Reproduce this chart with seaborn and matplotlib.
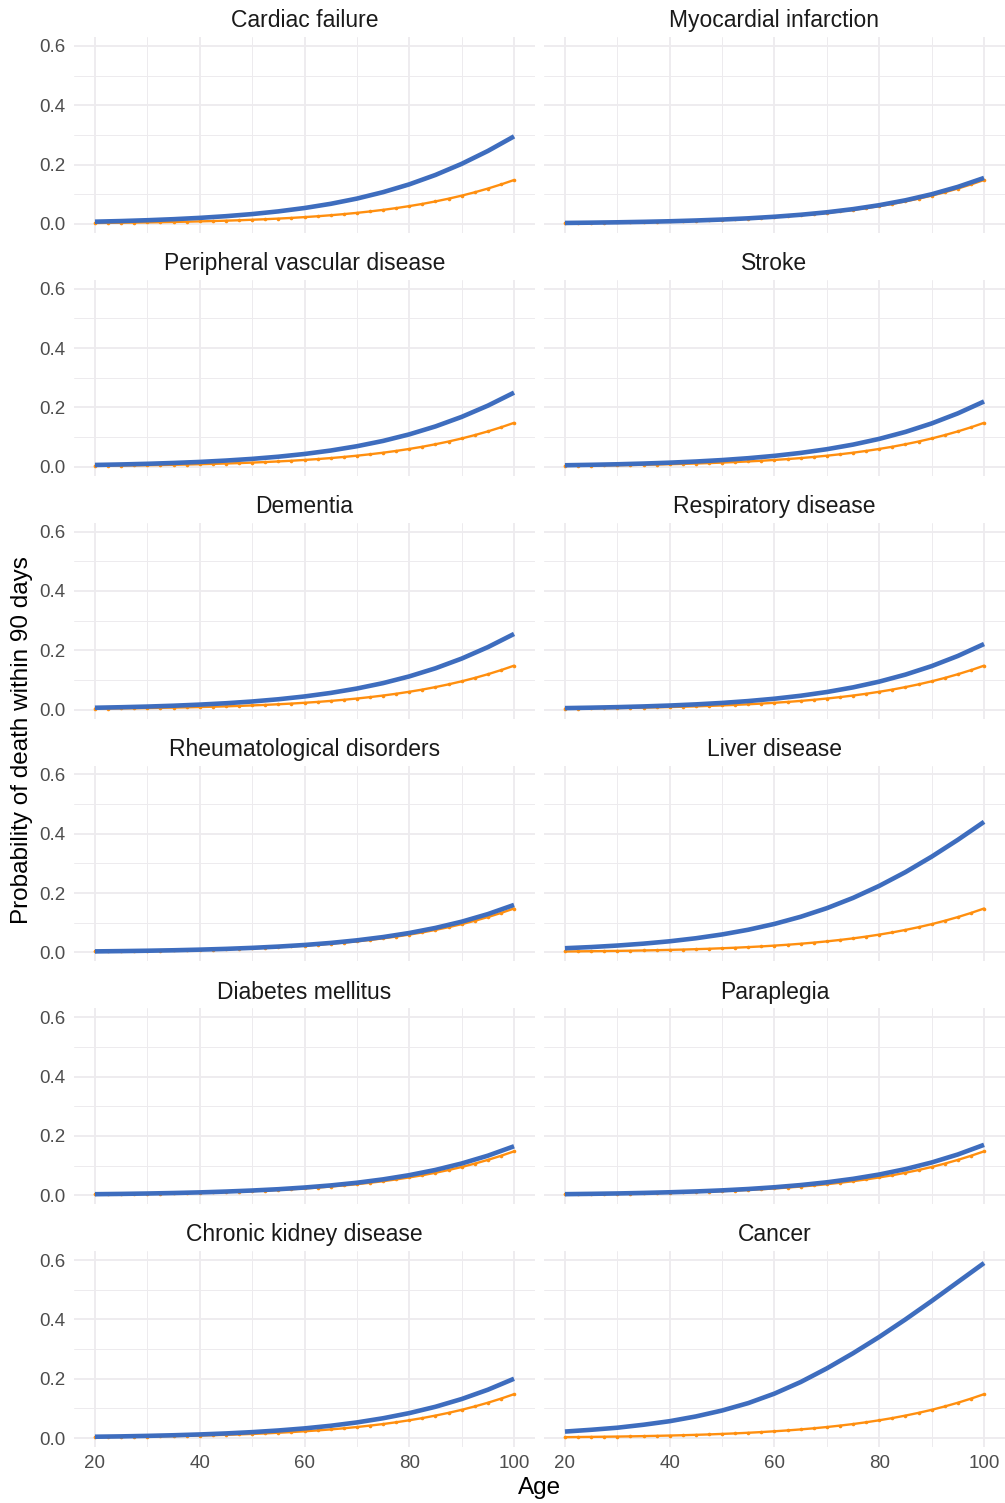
import numpy as np
import pandas as pd
import matplotlib
matplotlib.use("Agg")
import matplotlib.pyplot as plt
import seaborn as sns

# ---------------- data ----------------
diseases = [
    "Cardiac failure", "Myocardial infarction",
    "Peripheral vascular disease", "Stroke",
    "Dementia", "Respiratory disease",
    "Rheumatological disorders", "Liver disease",
    "Diabetes mellitus", "Paraplegia",
    "Chronic kidney disease", "Cancer",
]

ages_blue = [20, 25, 30, 35, 40, 45, 50, 55, 60, 65, 70, 75, 80, 85, 90, 95, 100]

cardiac_failure = [0.0076, 0.0097, 0.0125, 0.0160, 0.0204, 0.0261, 0.0332, 0.0423, 0.0536,
                   0.0678, 0.0854, 0.1071, 0.1334, 0.1651, 0.2025, 0.2459, 0.2951]
myocardial_infarction = [0.0033, 0.0043, 0.0055, 0.0071, 0.0090, 0.0116, 0.0148, 0.0189, 0.0242,
                         0.0309, 0.0393, 0.0499, 0.0632, 0.0797, 0.1000, 0.1249, 0.1550]
peripheral_vascular = [0.0061, 0.0078, 0.0100, 0.0128, 0.0163, 0.0209, 0.0266, 0.0339, 0.0431,
                       0.0547, 0.0692, 0.0871, 0.1092, 0.1360, 0.1681, 0.2060, 0.2499]
stroke = [0.0051, 0.0066, 0.0084, 0.0108, 0.0138, 0.0177, 0.0226, 0.0289, 0.0368,
          0.0467, 0.0592, 0.0747, 0.0940, 0.1175, 0.1460, 0.1800, 0.2200]
dementia = [0.0062, 0.0080, 0.0102, 0.0131, 0.0168, 0.0214, 0.0273, 0.0348, 0.0443,
            0.0562, 0.0710, 0.0893, 0.1119, 0.1392, 0.1719, 0.2105, 0.2550]
respiratory = [0.0050, 0.0065, 0.0083, 0.0107, 0.0137, 0.0176, 0.0225, 0.0288, 0.0367,
               0.0467, 0.0593, 0.0749, 0.0943, 0.1180, 0.1466, 0.1808, 0.2210]
rheumatological = [0.0035, 0.0045, 0.0057, 0.0073, 0.0094, 0.0120, 0.0154, 0.0197, 0.0251,
                   0.0320, 0.0408, 0.0518, 0.0655, 0.0826, 0.1036, 0.1292, 0.1601]
liver = [0.0142, 0.0181, 0.0232, 0.0296, 0.0376, 0.0478, 0.0606, 0.0765, 0.0961,
         0.1202, 0.1492, 0.1838, 0.2243, 0.2707, 0.3228, 0.3796, 0.4401]
diabetes = [0.0036, 0.0046, 0.0059, 0.0076, 0.0097, 0.0125, 0.0160, 0.0204, 0.0261,
            0.0332, 0.0422, 0.0536, 0.0678, 0.0854, 0.1071, 0.1334, 0.1651]
paraplegia = [0.0037, 0.0048, 0.0061, 0.0079, 0.0101, 0.0129, 0.0165, 0.0211, 0.0270,
              0.0344, 0.0437, 0.0554, 0.0700, 0.0882, 0.1105, 0.1375, 0.1700]
chronic_kidney = [0.0046, 0.0058, 0.0075, 0.0096, 0.0123, 0.0157, 0.0201, 0.0257, 0.0327,
                  0.0416, 0.0528, 0.0669, 0.0842, 0.1056, 0.1317, 0.1630, 0.2001]
cancer = [0.022, 0.028, 0.035, 0.045, 0.057, 0.073, 0.093, 0.118, 0.150,
          0.189, 0.235, 0.286, 0.341, 0.400, 0.462, 0.526, 0.590]

blue_series = [cardiac_failure, myocardial_infarction, peripheral_vascular, stroke,
               dementia, respiratory, rheumatological, liver,
               diabetes, paraplegia, chronic_kidney, cancer]

# reference (no comorbidity) curve, same in every panel
ages_orange = [20, 22.5, 25, 27.5, 30, 32.5, 35, 37.5, 40, 42.5, 45, 47.5, 50, 52.5, 55, 57.5,
               60, 62.5, 65, 67.5, 70, 72.5, 75, 77.5, 80, 82.5, 85, 87.5, 90, 92.5, 95, 97.5, 100]
baseline = [0.0032, 0.0036, 0.0041, 0.0046, 0.0052, 0.0059, 0.0067, 0.0076, 0.0086, 0.0097,
            0.0110, 0.0124, 0.0141, 0.0159, 0.0180, 0.0203, 0.0230, 0.0259, 0.0293, 0.0331,
            0.0373, 0.0421, 0.0474, 0.0534, 0.0601, 0.0675, 0.0759, 0.0851, 0.0953, 0.1067,
            0.1192, 0.1330, 0.1480]

x_ticks = [20, 40, 60, 80, 100]
x_tick_labels = ["20", "40", "60", "80", "100"]
y_ticks = [0.0, 0.2, 0.4, 0.6]
y_tick_labels = ["0.0", "0.2", "0.4", "0.6"]

blue_df = pd.DataFrame(
    [(d, a, v) for d, s in zip(diseases, blue_series) for a, v in zip(ages_blue, s)],
    columns=["disease", "age", "prob"])
orange_df = pd.DataFrame({"age": ages_orange, "prob": baseline})

# ---------------- style ----------------
sns.set_theme(style="white")
plt.rcParams["font.family"] = ["Liberation Sans", "DejaVu Sans"]

BLUE = "#3E6DBE"
ORANGE = "#FF8F0F"
GRID = "#EDEBEE"

W, H = 1005, 1503
fig, axes = plt.subplots(6, 2, figsize=(W / 100, H / 100), dpi=100, sharex=True, sharey=True)
fig.subplots_adjust(left=74 / W, right=1.0, top=1 - 37 / H, bottom=1 - 1447 / H,
                    wspace=0.0195, hspace=0.240)

for i, (ax, name) in enumerate(zip(axes.flat, diseases)):
    ax.set_facecolor("white")
    sub = blue_df[blue_df["disease"] == name]
    sns.lineplot(data=orange_df, x="age", y="prob", ax=ax, color=ORANGE, linewidth=1.7,
                 marker="o", markersize=2.6, markeredgewidth=0, zorder=3,
                 solid_joinstyle="round")
    sns.lineplot(data=sub, x="age", y="prob", ax=ax, color=BLUE, linewidth=3.3, zorder=4,
                 solid_joinstyle="round", solid_capstyle="butt")
    ax.set_xlim(16, 104)
    ax.set_ylim(-0.03, 0.63)
    ax.set_xticks(x_ticks)
    ax.set_xticks([30, 50, 70, 90], minor=True)
    ax.set_yticks(y_ticks)
    ax.set_yticks([0.1, 0.3, 0.5], minor=True)
    ax.set_xticklabels(x_tick_labels)
    ax.set_yticklabels(y_tick_labels)
    ax.grid(which="major", color=GRID, linewidth=1.3, zorder=0)
    ax.grid(which="minor", color=GRID, linewidth=0.7, zorder=0)
    ax.set_axisbelow(True)
    for sp in ax.spines.values():
        sp.set_visible(False)
    ax.tick_params(which="both", length=0, labelsize=13.5, labelcolor="#4D4D4D", pad=6)
    ax.set_xlabel("")
    ax.set_ylabel("")
    ax.set_title(name, fontsize=16.5, color="#1A1A1A", pad=7)

fig.text(539.5 / W, 1 - 1488 / H, "Age", ha="center", va="center", fontsize=17.5, color="black")
fig.text(22 / W, 1 - 740 / H, "Probability of death within 90 days", ha="center", va="center",
         rotation=90, fontsize=17.5, color="black")

fig.savefig("out.png", dpi=100, facecolor="white")
